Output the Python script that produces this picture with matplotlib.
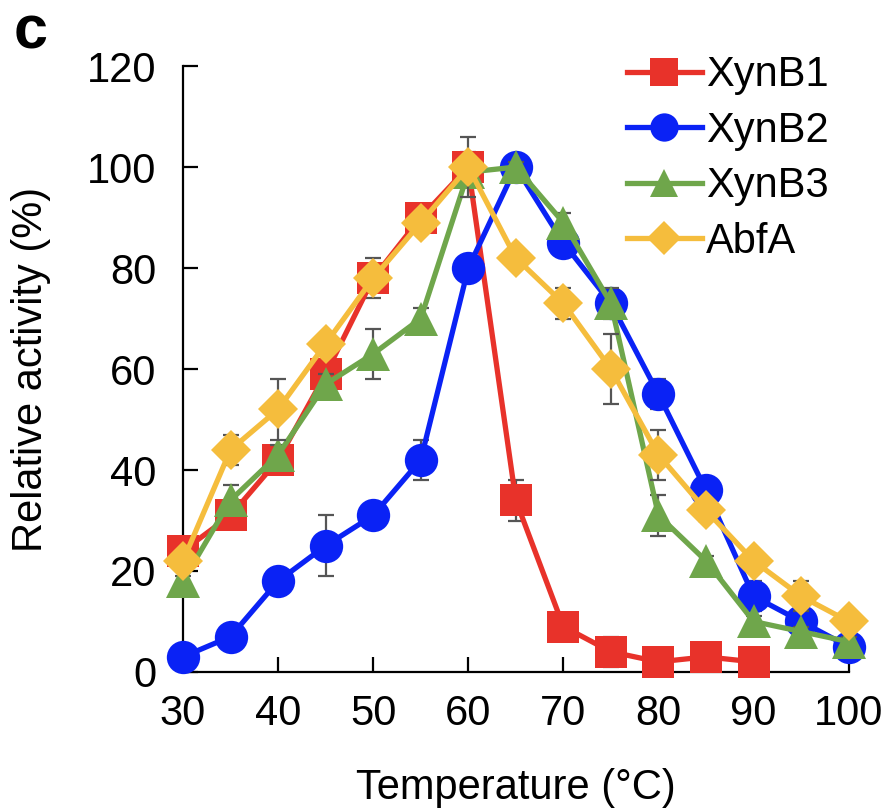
import matplotlib
matplotlib.use("Agg")
import matplotlib.pyplot as plt
import numpy as np

plt.rcParams['font.family'] = ['Liberation Sans', 'DejaVu Sans']

temps_b1 = [30, 35, 40, 45, 50, 55, 60, 65, 70, 75, 80, 85, 90]
xynb1 = [24, 31, 42, 59, 78, 90, 100, 34, 9, 4, 2, 3, 2]
xynb1_err = [2, 2, 2, 3, 4, 2, 3, 4, 1, 3, 1, 1, 1]

temps = [30, 35, 40, 45, 50, 55, 60, 65, 70, 75, 80, 85, 90, 95, 100]
xynb2 = [3, 7, 18, 25, 31, 42, 80, 100, 85, 73, 55, 36, 15, 10, 5]
xynb2_err = [1, 1, 2, 6, 1, 4, 2, 2, 1, 2, 3, 2, 3, 1, 1]
xynb3 = [18, 34, 43, 57, 63, 70, 99, 100, 89, 73, 31, 22, 10, 8, 6]
xynb3_err = [1, 3, 2, 2, 5, 2, 2, 1, 2, 3, 4, 1, 1, 1, 1]
abfa = [22, 44, 52, 65, 78, 89, 100, 82, 73, 60, 43, 32, 22, 15, 10]
abfa_err = [1, 3, 6, 2, 2, 2, 6, 2, 3, 7, 5, 2, 2, 3, 1]

labels = ['XynB1', 'XynB2', 'XynB3', 'AbfA']
colors = ['#E8322A', '#0A22F5', '#6FA64B', '#F5BD3D']
markers = ['s', 'o', '^', 'D']
msizes = [23, 24, 24, 20]

fig = plt.figure(figsize=(8.9, 8.1), dpi=100)
ax = fig.add_axes([0.2056, 0.1704, 0.748, 0.748])

series = [(temps_b1, xynb1, xynb1_err), (temps, xynb2, xynb2_err),
          (temps, xynb3, xynb3_err), (temps, abfa, abfa_err)]

for i, ((x, y, e), lab, c, m, ms) in enumerate(zip(series, labels, colors, markers, msizes)):
    ax.errorbar(x, y, yerr=e, fmt='none', ecolor='#555555', elinewidth=1.6,
                capsize=6, capthick=1.6, zorder=2 + i * 2, clip_on=False)
    ax.plot(x, y, color=c, marker=m, markersize=ms, linewidth=3.8,
            markeredgewidth=0, label=lab, zorder=3 + i * 2, clip_on=False)

ax.set_xlim(30, 100)
ax.set_ylim(0, 120)
ax.set_xticks(np.arange(30, 101, 10))
ax.set_yticks(np.arange(0, 121, 20))
ax.spines['top'].set_visible(False)
ax.spines['right'].set_visible(False)
for s in ['left', 'bottom']:
    ax.spines[s].set_linewidth(1.6)
ax.tick_params(direction='in', length=11, width=1.6, labelsize=30)
ax.tick_params(axis='x', pad=16)
ax.tick_params(axis='y', pad=19)
ax.set_xlabel('Temperature (°C)', fontsize=30, labelpad=24)
ax.set_ylabel('Relative activity (%)', fontsize=30, labelpad=26)

leg = ax.legend(loc='upper right', bbox_to_anchor=(0.995, 1.045), frameon=False,
                fontsize=30, handlelength=1.8, handletextpad=0.1,
                labelspacing=0.37, markerscale=0.85, borderaxespad=0)

fig.text(0.015, 0.94, 'c', fontsize=44, fontweight='bold')

fig.savefig('out.png', dpi=100)
